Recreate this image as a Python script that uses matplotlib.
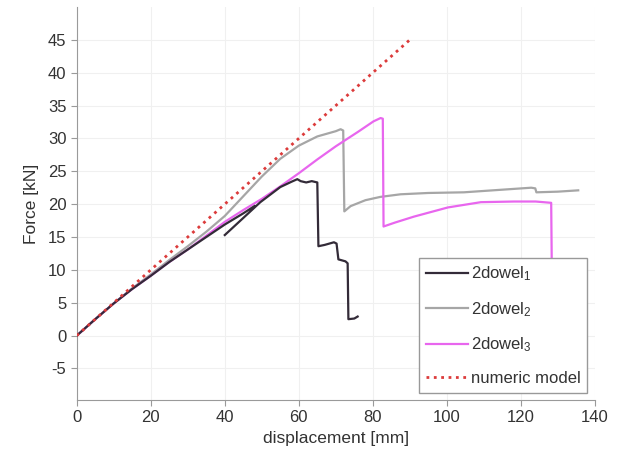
import numpy as np
import matplotlib
matplotlib.use('Agg')
import matplotlib.pyplot as plt

plt.rcParams['font.family'] = ['Liberation Sans', 'DejaVu Sans']
plt.rcParams['mathtext.default'] = 'regular'
plt.rcParams['axes.unicode_minus'] = False

# 2dowel_1: loading part, then the second branch (nan splits the line)
d1_x = [0, 5, 10, 15, 20, 25, 30, 35, 40, 45, 48,
        np.nan,
        40, 45, 49.6, 55, 58, 59.6, 60.5, 62, 63.5, 65, 65.3, 67, 69.5,
        70.2, 70.7, 72.6, 73.2, 73.4, 75, 75.9]
d1_y = [0, 2.5, 4.9, 7.1, 9.1, 11.2, 13.1, 15.0, 16.9, 18.6, 19.7,
        np.nan,
        15.3, 17.9, 20.3, 22.6, 23.4, 23.8, 23.5, 23.3, 23.5, 23.3, 13.6, 13.8, 14.2,
        14.0, 11.6, 11.3, 11.0, 2.5, 2.6, 2.9]

# 2dowel_2
d2_x = [0, 5, 10, 15, 20, 25, 30, 35, 40, 45, 50, 55, 60, 65, 70, 71.3, 72.0,
        72.3, 74, 78, 82, 87.5, 95, 104.6, 115, 122.8, 123.9, 124.2, 130, 135.5]
d2_y = [0, 2.5, 4.9, 7.2, 9.3, 11.5, 13.6, 15.8, 18.2, 21.2, 24.2, 26.9, 28.9, 30.3, 31.1, 31.4, 31.2,
        18.9, 19.7, 20.6, 21.1, 21.5, 21.7, 21.8, 22.2, 22.5, 22.4, 21.8, 21.9, 22.1]

# 2dowel_3
d3_x = [0, 5, 10, 15, 20, 25, 30, 35, 40, 45, 50, 55, 60, 65, 70, 76, 80.2, 82.1, 82.7,
        82.9, 86, 91.1, 100.3, 109.2, 118.2, 124, 128.2, 128.5]
d3_y = [0, 2.5, 4.9, 7.1, 9.1, 11.2, 13.1, 15.2, 17.3, 19.1, 20.8, 22.7, 24.7, 26.8, 28.8, 31.0, 32.6, 33.1, 33.0,
        16.6, 17.2, 18.1, 19.5, 20.3, 20.4, 20.4, 20.2, 2.0]

# numeric model
num_x = [0, 90]
num_y = [0, 45]

xticks = [0, 20, 40, 60, 80, 100, 120, 140]
yticks = [-5, 0, 5, 10, 15, 20, 25, 30, 35, 40, 45]

fig = plt.figure(figsize=(6.19, 4.63), dpi=100)
ax = fig.add_axes([0.124, 0.136, 0.837, 0.849])

ax.plot(d1_x, d1_y, color='#332b38', lw=1.6, label='2dowel$_1$', zorder=3)
ax.plot(d2_x, d2_y, color='#a6a6a6', lw=1.6, label='2dowel$_2$', zorder=2)
ax.plot(d3_x, d3_y, color='#e866ee', lw=1.6, label='2dowel$_3$', zorder=2)
ax.plot(num_x, num_y, color='#dc3b3b', lw=2, ls=':', label='numeric model', zorder=4)

ax.set_xlim(0, 140)
ax.set_ylim(-9.8, 50)
ax.set_xticks(xticks)
ax.set_yticks(yticks)
ax.grid(True, color='#f0f0f0', lw=0.8)
ax.set_axisbelow(True)

for s in ['top', 'right']:
    ax.spines[s].set_visible(False)
for s in ['left', 'bottom']:
    ax.spines[s].set_color('#9a9a9a')
ax.tick_params(colors='#9a9a9a', labelcolor='#333333', labelsize=12, length=4, direction='out')

ax.set_xlabel('displacement [mm]', fontsize=12.5, color='#333333', labelpad=4)
ax.set_ylabel('Force [kN]', fontsize=12.5, color='#333333', labelpad=6)

leg = ax.legend(loc='lower right', fontsize=12, frameon=True, fancybox=False,
                edgecolor='#999999', framealpha=1, labelspacing=1.0, handlelength=2.5,
                handletextpad=0.2, borderaxespad=0.45)
leg.get_frame().set_linewidth(1.0)
for t in leg.get_texts():
    t.set_color('#333333')

fig.savefig('out.png', dpi=100)
